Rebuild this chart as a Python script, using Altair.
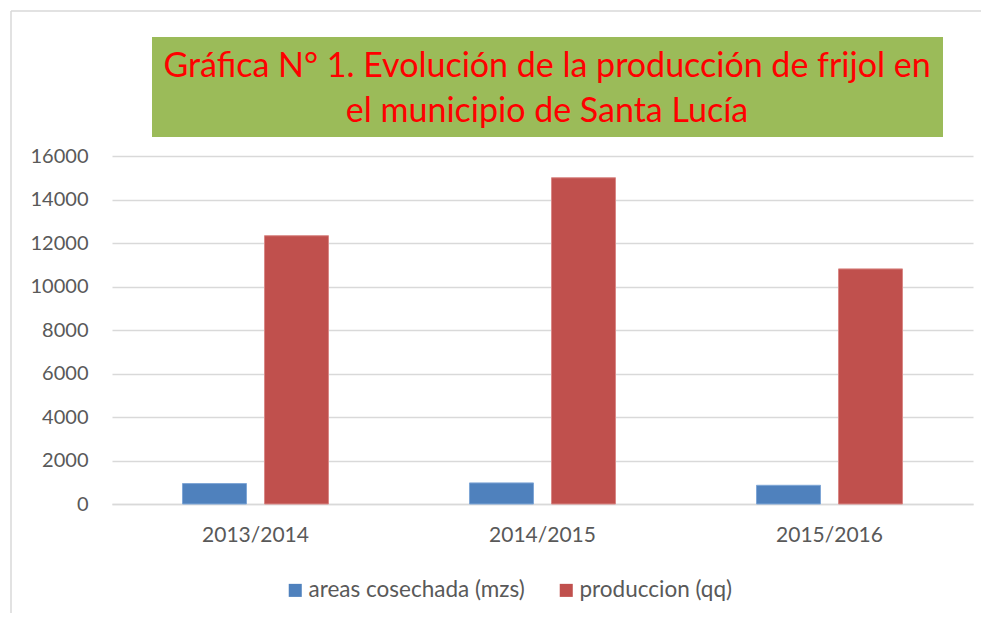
import altair as alt
import pandas as pd

seasons = ["2013/2014", "2014/2015", "2015/2016"]
series_names = ["areas cosechada (mzs)", "produccion (qq)"]
areas = [940, 970, 860]
produccion = [12335, 15000, 10810]
y_ticks = [0, 2000, 4000, 6000, 8000, 10000, 12000, 14000, 16000]
title_lines = ["Gráfica N° 1. Evolución de la producción de frijol en",
               "el municipio de Santa Lucía"]

FONT = "Lato"
LABEL = "#595959"
GRID = "#D9D9D9"

rows = []
for s, a, p in zip(seasons, areas, produccion):
    rows.append({"season": s, "serie": series_names[0], "valor": a})
    rows.append({"season": s, "serie": series_names[1], "valor": p})
df = pd.DataFrame(rows)

bars = alt.Chart(df).mark_bar(strokeWidth=1).encode(
    x=alt.X("season:N", sort=seasons, title=None,
            scale=alt.Scale(paddingInner=0.4913, paddingOuter=0.2456),
            axis=alt.Axis(labelAngle=0, labelFontSize=21, labelColor=LABEL, labelFont=FONT,
                          ticks=False, domainColor=GRID, domainWidth=1.5, labelPadding=20)),
    xOffset=alt.XOffset("serie:N", sort=series_names,
                        scale=alt.Scale(paddingInner=0.2195, paddingOuter=0)),
    y=alt.Y("valor:Q", title=None,
            scale=alt.Scale(domain=[0, 16000], nice=False),
            axis=alt.Axis(values=y_ticks, format="d", labelFontSize=20, labelColor=LABEL,
                          labelFont=FONT, ticks=False, domain=False, gridColor=GRID,
                          gridWidth=1.5, labelPadding=24)),
    color=alt.Color("serie:N", sort=series_names,
                    scale=alt.Scale(domain=series_names, range=["#4F81BD", "#C0504D"]),
                    legend=alt.Legend(title=None, orient="none", legendX=172, legendY=423,
                                      direction="horizontal", symbolType="square",
                                      symbolSize=170, symbolStrokeWidth=0,
                                      labelFontSize=22.5, labelColor=LABEL, labelFont=FONT,
                                      labelLimit=0, labelOffset=2, columnPadding=30,
                                      padding=0)),
    stroke=alt.Stroke("serie:N", sort=series_names,
                      scale=alt.Scale(domain=series_names, range=["#7FA6D6", "#D98886"]),
                      legend=None),
)

deco = pd.DataFrame({"k": [0]})

frame_top = alt.Chart(deco).mark_rule(color=GRID, strokeWidth=1.5).encode(
    x=alt.value(-101), x2=alt.value(870), y=alt.value(-145))
frame_left = alt.Chart(deco).mark_rule(color=GRID, strokeWidth=1.5).encode(
    x=alt.value(-101), y=alt.value(-145), y2=alt.value(460))

title_box = alt.Chart(deco).mark_rect(fill="#9BBB59").encode(
    x=alt.value(40), x2=alt.value(831), y=alt.value(-119), y2=alt.value(-19))

t1 = alt.Chart(deco).mark_text(font=FONT, fontSize=34, color="#FF0000", align="center",
                               baseline="alphabetic").encode(
    x=alt.value(435), y=alt.value(-79), text=alt.value(title_lines[0]))
t2 = alt.Chart(deco).mark_text(font=FONT, fontSize=34, color="#FF0000", align="center",
                               baseline="alphabetic").encode(
    x=alt.value(435), y=alt.value(-34), text=alt.value(title_lines[1]))

chart = alt.layer(frame_top, frame_left, bars, title_box, t1, t2).properties(
    width=861, height=348,
    autosize=alt.AutoSizeParams(type="none"),
    padding={"left": 104, "top": 148, "right": 8, "bottom": 109},
).configure_view(stroke=None)

chart.save("out.html", embed_options={"renderer": "svg", "actions": False})
